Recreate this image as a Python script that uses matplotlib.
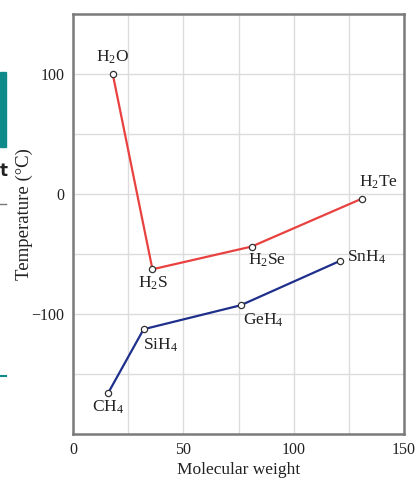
import matplotlib
matplotlib.use("Agg")
import matplotlib.pyplot as plt
from matplotlib.patches import Rectangle
from matplotlib.lines import Line2D
from matplotlib.ticker import MultipleLocator

plt.rcParams['font.family'] = ['Liberation Serif', 'DejaVu Serif']
plt.rcParams['mathtext.fontset'] = 'custom'
plt.rcParams['mathtext.rm'] = 'Liberation Serif'
plt.rcParams['mathtext.it'] = 'Liberation Serif:italic'

group6_names = [r'H$_2$O', r'H$_2$S', r'H$_2$Se', r'H$_2$Te']
group6_mw = [18, 36, 81, 131]
group6_bp = [100, -63, -44, -4]

group4_names = [r'CH$_4$', r'SiH$_4$', r'GeH$_4$', r'SnH$_4$']
group4_mw = [16, 32, 76, 121]
group4_bp = [-166, -113, -93, -56]

# label offsets in pixels
g6_off = [(0, 17), (0, -14), (15, -14), (16, 16)]
g4_off = [(0, -15), (17, -16), (23, -15), (26, 4)]

fig = plt.figure(figsize=(4.17, 4.79), dpi=100)
ax = fig.add_axes([73/417, 1-433.5/479, (404-73)/417, (433.5-14)/479])

red = '#e8413f'
blue = '#1f2f8c'
ax.plot(group6_mw, group6_bp, color=red, lw=1.6, marker='o', ms=4.5,
        mfc='white', mec='#333333', mew=0.9, zorder=3)
ax.plot(group4_mw, group4_bp, color=blue, lw=1.6, marker='o', ms=4.5,
        mfc='white', mec='#333333', mew=0.9, zorder=3)

px = 0.72
for n, x, y, (dx, dy) in zip(group6_names, group6_mw, group6_bp, g6_off):
    ax.annotate(n, (x, y), xytext=(dx*px, dy*px), textcoords='offset points',
                ha='center', va='center', fontsize=12.5, color='#222222')
for n, x, y, (dx, dy) in zip(group4_names, group4_mw, group4_bp, g4_off):
    ax.annotate(n, (x, y), xytext=(dx*px, dy*px), textcoords='offset points',
                ha='center', va='center', fontsize=12.5, color='#222222')

ax.set_xlim(0, 150)
ax.set_ylim(-200, 150)
ax.xaxis.set_major_locator(MultipleLocator(50))
ax.xaxis.set_minor_locator(MultipleLocator(25))
ax.set_yticks([-100, 0, 100])
ax.set_yticks([-150, -50, 50], minor=True)
ax.set_yticklabels(['\u2212100', '0', '100'])
ax.grid(True, which='both', color='#dcdcdc', lw=1.0)
ax.set_axisbelow(True)
ax.tick_params(which='both', length=0, labelsize=11.5, colors='#222222', pad=6)
for s in ax.spines.values():
    s.set_color('#7a7a7a')
    s.set_linewidth(1.8)

ax.set_xlabel('Molecular weight', fontsize=12.5, color='#222222', labelpad=3)
ax.set_ylabel('Temperature (\u00b0C)', fontsize=13.5, color='#222222')
ax.yaxis.set_label_coords(-0.12, 0.523)

# cropped page artifacts on the left edge
fig.patches.append(Rectangle((0, 1-147/479), 6/417, 75/479, transform=fig.transFigure,
                             color='#0e8a8a', zorder=0))
fig.text(0.0, 1-171/479, 't', fontsize=12, fontweight='bold', ha='left', va='center',
         color='#222222', family='DejaVu Sans')
fig.lines.append(Line2D([0, 6/417], [1-204/479, 1-204/479], transform=fig.transFigure,
                        color='#777777', lw=1.0))
fig.lines.append(Line2D([0, 6/417], [1-376/479, 1-376/479], transform=fig.transFigure,
                        color='#0e8a8a', lw=1.5))

fig.savefig('out.png', dpi=100)
